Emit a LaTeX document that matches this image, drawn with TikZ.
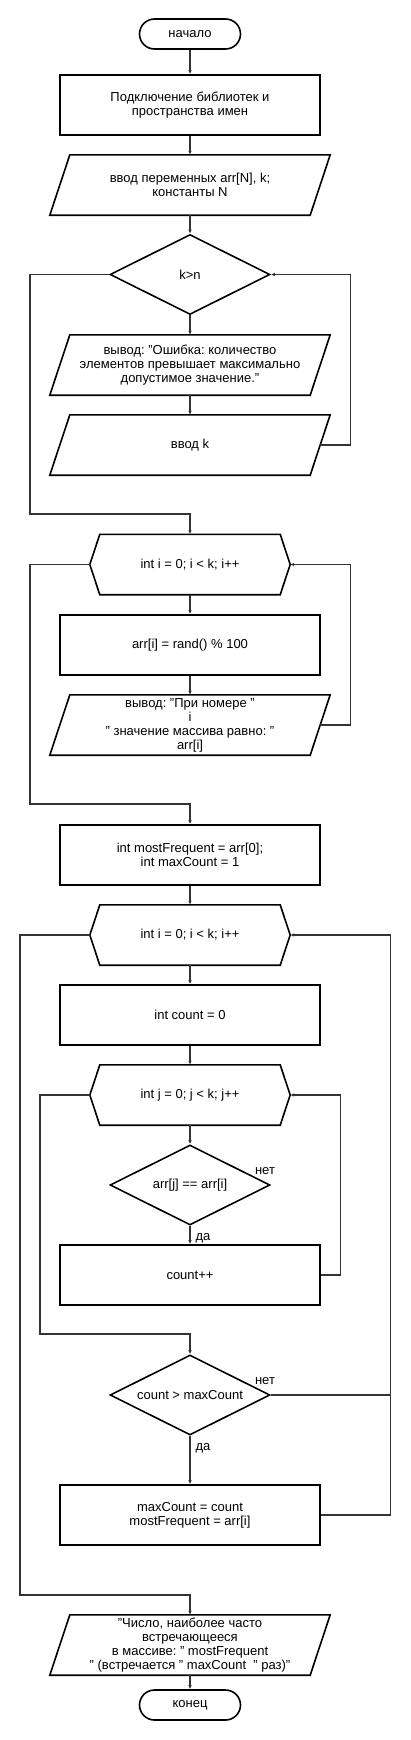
\documentclass[tikz,border=0pt]{standalone}
\usepackage{fontspec}
\setmainfont{Liberation Sans}
\frenchspacing
\usepackage{tikz}
\usetikzlibrary{shapes.geometric}
\usetikzlibrary{arrows.meta}
\tikzset{%
  every block/.style={
    font=\fontsize{13}{14}\selectfont,
    align=center,
    inner sep=1pt
  },
  block box/.style={
    draw,
    line width=1.6pt,
    minimum width=260pt,
    minimum height=60pt
  },
  block term/.style={
    draw,
    line width=1.6pt,
    rounded corners=15pt,
    minimum width=101pt,
    minimum height=30pt
  },
  block io/.style={
    minimum width=260pt,
    minimum height=60pt,
    append after command={\pgfextra{\draw[line width=1.6pt]
      ([xshift=10pt]\tikzlastnode.north west) -- ([xshift=10pt]\tikzlastnode.north east)
      -- ([xshift=-10pt]\tikzlastnode.south east) -- ([xshift=-10pt]\tikzlastnode.south west)
      -- cycle;}}
  },
  block loop/.style={
    minimum width=200pt,
    minimum height=60pt,
    append after command={\pgfextra{\draw[line width=1.6pt]
      ([xshift=10pt]\tikzlastnode.north west) -- ([xshift=-10pt]\tikzlastnode.north east)
      -- (\tikzlastnode.east) -- ([xshift=-10pt]\tikzlastnode.south east)
      -- ([xshift=10pt]\tikzlastnode.south west) -- (\tikzlastnode.west) -- cycle;}}
  },
  block cond/.style={
    draw,
    line width=1.6pt,
    diamond,
    aspect=2,
    inner sep=0pt,
    minimum width=160pt,
    minimum height=80pt
  },
  wire/.style={
    draw=black!80,
    line width=1.2pt
  },
  link/.style={
    wire,
    -{Latex[length=4pt,width=3.5pt]}
  },
  answer/.style={
    font=\fontsize{13}{14}\selectfont,
    inner sep=0pt
  },
}

\begin{document}
\begin{tikzpicture}[x=1pt, y=-1pt]

\useasboundingbox (0,0) rectangle (410,1740);

\node [every block, block term] (start) at (190,34) {начало};
\node [every block, block box] (lib) at (190,105) {Подключение библиотек и\\пространства имен};
\node [every block, block io] (inp) at (190,185) {ввод переменных arr[N], k;\\константы N};
\node [every block, block cond] (cond1) at (190,274.5) {k>n};
\node [every block, block io] (err) at (190,365) {вывод: "Ошибка: количество\\элементов превышает максимально\\допустимое значение."};
\node [every block, block io] (readk) at (190,445) {ввод k};

\node [every block, block loop] (loop1) at (190,564.5) {int i = 0; i < k; i++};
\node [every block, block box] (fill) at (190,645) {arr[i] = rand() \% 100};
\node [every block, block io] (out1) at (190,725) {вывод: "При номере "\\i\\" значение массива равно: "\\arr[i]};

\node [every block, block box] (init) at (190,855) {int mostFrequent = arr[0];\\int maxCount = 1};
\node [every block, block loop] (loop2) at (190,935) {int i = 0; i < k; i++};
\node [every block, block box] (cnt0) at (190,1015) {int count = 0};
\node [every block, block loop] (loop3) at (190,1095) {int j = 0; j < k; j++};
\node [every block, block cond] (cond2) at (190,1185) {arr[j] == arr[i]};
\node [every block, block box] (inc) at (190,1275) {count++};
\node [every block, block cond] (cond3) at (190,1395) {count > maxCount};
\node [every block, block box] (upd) at (190,1515) {maxCount = count\\mostFrequent = arr[i]};

\node [every block, block io] (res) at (190,1645) {"Число, наиболее часто\\встречающееся\\в массиве: " mostFrequent\\" (встречается " maxCount \ " раз)"};
\node [every block, block term] (end) at (190,1705) {конец};

\node [answer] (no2) at (265,1171) {нет};
\node [answer] (yes2) at (203,1238) {да};
\node [answer] (no3) at (265,1381) {нет};
\node [answer] (yes3) at (203,1448) {да};

\foreach \a/\b in {start/lib, lib/inp, inp/cond1, cond1/err, err/readk,
                   loop1/fill, fill/out1, init/loop2, loop2/cnt0, cnt0/loop3,
                   loop3/cond2, cond2/inc, cond3/upd, res/end}
  \draw [link] (\a) -- (\b);

\draw [link] (readk.east) -- ++(30,0) |- (cond1.east);
\draw [link] (cond1.west) -| (30,514) -| (loop1.north);

\draw [link] (out1.east) -- ++(30,0) |- (loop1.east);
\draw [link] (loop1.west) -| (30,804) -| (init.north);

\draw [link] (inc.east) -- ++(20,0) |- (loop3.east);
\draw [link] (loop3.west) -| (40,1334) -| (cond3.north);

\draw [wire] (cond3.east) -- ++(120,0);
\draw [link] (upd.east) -- ++(70,0) |- (loop2.east);
\draw [link] (loop2.west) -| (20,1595) -| (res.north);

\end{tikzpicture}
\end{document}
